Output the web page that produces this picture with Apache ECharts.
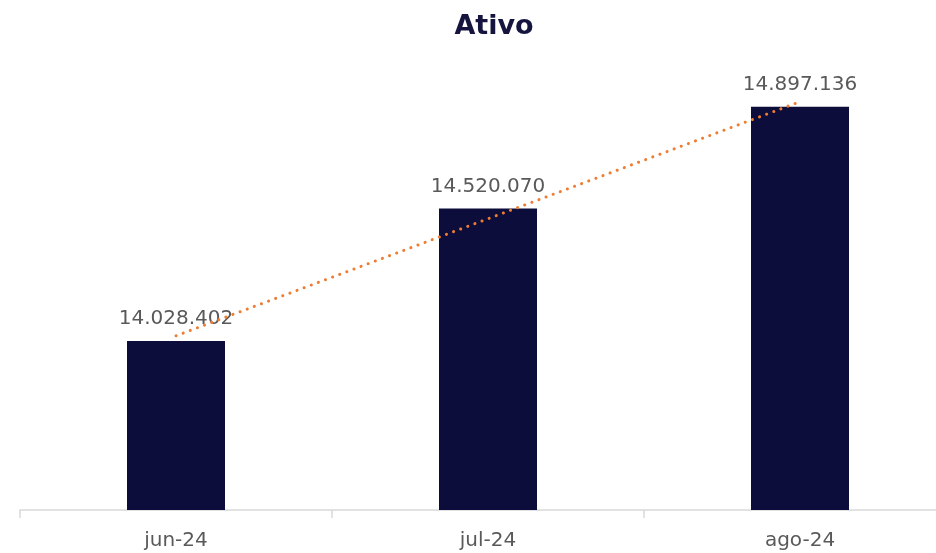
<!DOCTYPE html>
<html>
<head>
<meta charset="utf-8">
<script src="https://cdn.jsdelivr.net/npm/echarts@6/dist/echarts.min.js"></script>
<style>
  html, body { margin: 0; padding: 0; background: #fff; overflow: hidden; }
  /* chart is a bit wider than the window: the axis runs off the right edge */
  #chart { width: 956px; height: 553px; }
</style>
</head>
<body>
<div id="chart"></div>
<script>
const months = ["jun-24", "jul-24", "ago-24"];
const ativo = [14028402, 14520070, 14897136];
// linear trend line
const trend = [14047500, 14481900, 14916300];

const fmt = (v) => String(v).replace(/\B(?=(\d{3})+(?!\d))/g, ".");

const chart = echarts.init(document.getElementById("chart"));
const option = {
  animation: false,
  title: {
    text: "Ativo",
    left: 489,
    top: 8,
    textAlign: "center",
    textStyle: {
      fontFamily: "DejaVu Sans",
      fontWeight: "bold",
      fontSize: 27,
      color: "#14143f",
    },
  },
  grid: {
    left: 20,
    right: 0,
    top: 60,
    bottom: 43,
    containLabel: false,
  },
  xAxis: {
    type: "category",
    data: months,
    axisLine: { lineStyle: { color: "#d9d9d9", width: 1.5 } },
    axisTick: {
      show: true,
      alignWithLabel: false,
      interval: 0,
      length: 8,
      lineStyle: { color: "#d9d9d9", width: 1.5 },
    },
    axisLabel: {
      color: "#595959",
      fontFamily: "DejaVu Sans",
      fontSize: 20,
      margin: 21,
    },
  },
  yAxis: {
    type: "value",
    min: 13401000,
    max: 15071000,
    show: false,
    splitLine: { show: false },
  },
  series: [
    {
      type: "bar",
      data: ativo,
      barWidth: 98,
      itemStyle: { color: "#0d0d3b" },
      label: {
        show: true,
        position: "top",
        distance: 12,
        color: "#595959",
        fontFamily: "DejaVu Sans",
        fontSize: 20,
        formatter: (p) => fmt(p.value),
      },
    },
    {
      type: "line",
      data: trend,
      symbol: "none",
      z: 3,
      lineStyle: {
        color: "#ed7d31",
        width: 3,
        type: [0.1, 7.5],
        cap: "round",
      },
    },
  ],
};
chart.setOption(option);
</script>
</body>
</html>
